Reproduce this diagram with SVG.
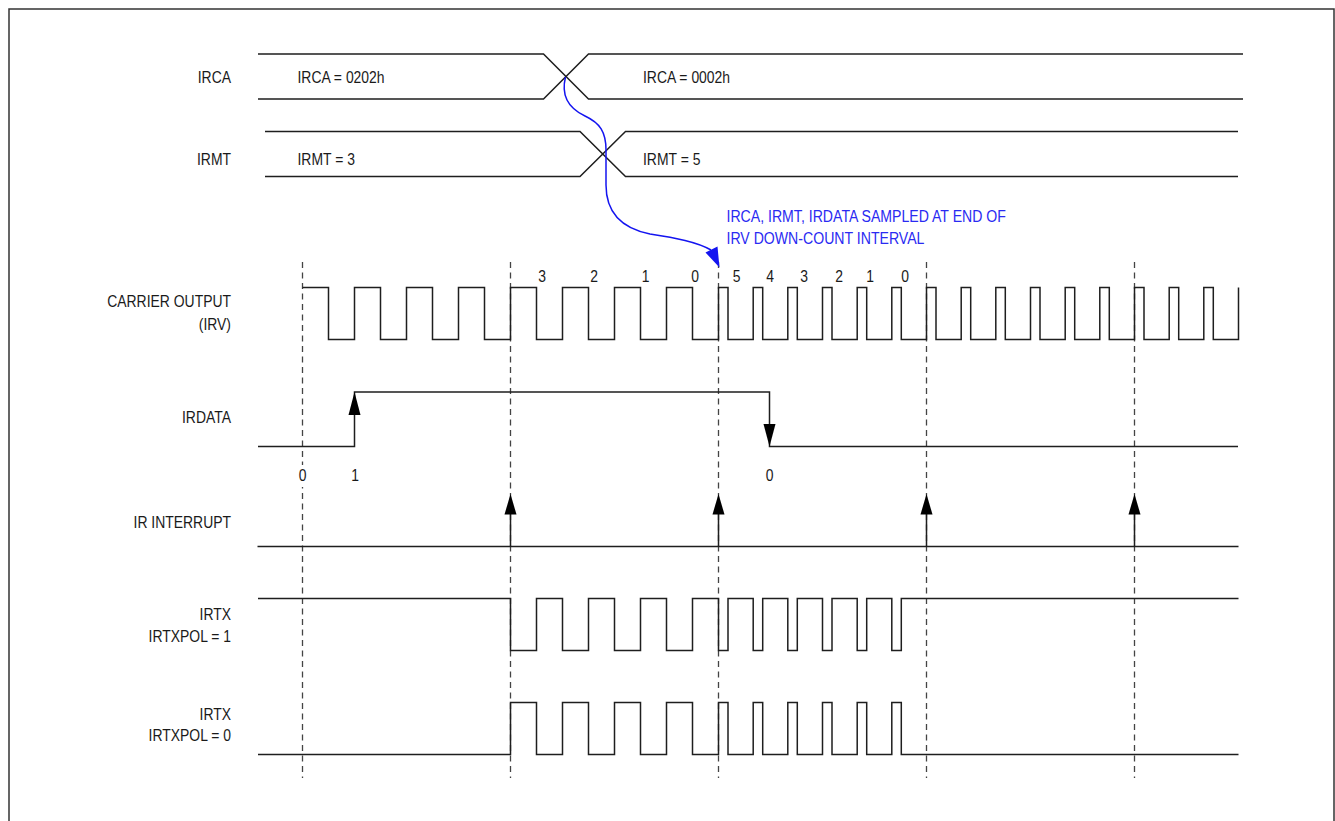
<svg xmlns="http://www.w3.org/2000/svg" width="1335" height="821" viewBox="0 0 1335 821">
<style>
text{font-family:"Liberation Sans",Arial,sans-serif;font-size:17px;fill:#1a1a1a}
.lbl{text-anchor:end}
.num{text-anchor:middle}
.blue{fill:#2a2af2}
.w{fill:none;stroke:#1e1e1e;stroke-width:1.5}
.dash{fill:none;stroke:#444;stroke-width:1.3;stroke-dasharray:6 4.5}
.ah{fill:#000;stroke:none}
</style>
<rect x="9" y="9" width="1325" height="830" fill="#fff" stroke="#333" stroke-width="1.5"/>

<g id="dashed-lines">
<line class="dash" x1="302.5" y1="262" x2="302.5" y2="778"/>
<line class="dash" x1="510.5" y1="262" x2="510.5" y2="778"/>
<line class="dash" x1="718.5" y1="262" x2="718.5" y2="778"/>
<line class="dash" x1="926.5" y1="262" x2="926.5" y2="778"/>
<line class="dash" x1="1134.5" y1="262" x2="1134.5" y2="778"/>
</g>

<g id="irca">
<text class="lbl" transform="matrix(0.82 0 0 1 231 83)">IRCA</text>
<path class="w" d="M258,54 H543.5 L588.5,99 H1243 M258,99 H543.5 L588.5,54 H1243"/>
<text transform="matrix(0.82 0 0 1 297.5 83)">IRCA = 0202h</text>
<text transform="matrix(0.82 0 0 1 643 83)">IRCA = 0002h</text>
</g>

<g id="irmt">
<text class="lbl" transform="matrix(0.82 0 0 1 231 165)">IRMT</text>
<path class="w" d="M265,131.5 H580 L625.5,176.5 H1238 M265,176.5 H580 L625.5,131.5 H1238"/>
<text transform="matrix(0.82 0 0 1 297.5 165)">IRMT = 3</text>
<text transform="matrix(0.82 0 0 1 643 165)">IRMT = 5</text>
</g>

<g id="carrier">
<text class="lbl" transform="matrix(0.82 0 0 1 231 306.5)">CARRIER OUTPUT</text>
<text class="lbl" transform="matrix(0.82 0 0 1 231 329.5)">(IRV)</text>
<path class="w" d="M302.5,287.5 H328.5 V339.5 H354.5 V287.5 H380.5 V339.5 H406.5 V287.5 H432.5 V339.5 H458.5 V287.5 H484.5 V339.5 H510.5 V287.5 H536.5 V339.5 H562.5 V287.5 H588.5 V339.5 H614.5 V287.5 H640.5 V339.5 H666.5 V287.5 H692.5 V339.5 H718.5 V287.5 H728 V339.5 H753.2 V287.5 H762.7 V339.5 H787.8 V287.5 H797.3 V339.5 H822.5 V287.5 H832 V339.5 H857.2 V287.5 H866.7 V339.5 H891.8 V287.5 H901.3 V339.5 H926.5 V287.5 H936 V339.5 H961.2 V287.5 H970.7 V339.5 H995.8 V287.5 H1005.3 V339.5 H1030.5 V287.5 H1040 V339.5 H1065.2 V287.5 H1074.7 V339.5 H1099.8 V287.5 H1109.3 V339.5 H1134.5 V287.5 H1144 V339.5 H1169.2 V287.5 H1178.7 V339.5 H1203.8 V287.5 H1213.3 V339.5 H1238.5 V287.5"/>
<text class="num" transform="matrix(0.82 0 0 1 542 281.5)">3</text>
<text class="num" transform="matrix(0.82 0 0 1 594 281.5)">2</text>
<text class="num" transform="matrix(0.82 0 0 1 645.5 281.5)">1</text>
<text class="num" transform="matrix(0.82 0 0 1 695 281.5)">0</text>
<text class="num" transform="matrix(0.82 0 0 1 736.5 281.5)">5</text>
<text class="num" transform="matrix(0.82 0 0 1 770 281.5)">4</text>
<text class="num" transform="matrix(0.82 0 0 1 804 281.5)">3</text>
<text class="num" transform="matrix(0.82 0 0 1 839 281.5)">2</text>
<text class="num" transform="matrix(0.82 0 0 1 870 281.5)">1</text>
<text class="num" transform="matrix(0.82 0 0 1 905 281.5)">0</text>
</g>

<g id="irdata">
<text class="lbl" transform="matrix(0.82 0 0 1 231 423)">IRDATA</text>
<path class="w" d="M258,446.5 H354.5 V392 H769.5 V446.5 H1238"/>
<polygon class="ah" points="354.5,392 348.5,415 360.5,415"/>
<polygon class="ah" points="769.5,446.5 763.5,424 775.5,424"/>
<rect x="296.5" y="465" width="12" height="22" fill="#fff"/>
<text class="num" transform="matrix(0.82 0 0 1 302.5 481)">0</text>
<text class="num" transform="matrix(0.82 0 0 1 355 481)">1</text>
<text class="num" transform="matrix(0.82 0 0 1 769.5 481)">0</text>
</g>

<g id="ir-interrupt">
<text class="lbl" transform="matrix(0.82 0 0 1 231 527.5)">IR INTERRUPT</text>
<path class="w" d="M257.5,546.5 H1238.5 M510.5,512 V546.5 M718.5,512 V546.5 M926.5,512 V546.5 M1134.5,512 V546.5"/>
<polygon class="ah" points="510.5,494 504.5,514.5 516.5,514.5"/>
<polygon class="ah" points="718.5,494 712.5,514.5 724.5,514.5"/>
<polygon class="ah" points="926.5,494 920.5,514.5 932.5,514.5"/>
<polygon class="ah" points="1134.5,494 1128.5,514.5 1140.5,514.5"/>
</g>

<g id="irtx-pol1">
<text class="lbl" transform="matrix(0.82 0 0 1 231 620)">IRTX</text>
<text class="lbl" transform="matrix(0.82 0 0 1 231 641.5)">IRTXPOL = 1</text>
<path class="w" d="M258,598.5 H510.5 V650.5 H536.5 V598.5 H562.5 V650.5 H588.5 V598.5 H614.5 V650.5 H640.5 V598.5 H666.5 V650.5 H692.5 V598.5 H718.5 V650.5 H728 V598.5 H753.2 V650.5 H762.7 V598.5 H787.8 V650.5 H797.3 V598.5 H822.5 V650.5 H832 V598.5 H857.2 V650.5 H866.7 V598.5 H891.8 V650.5 H901.3 V598.5 H1238.5"/>
</g>

<g id="irtx-pol0">
<text class="lbl" transform="matrix(0.82 0 0 1 231 720)">IRTX</text>
<text class="lbl" transform="matrix(0.82 0 0 1 231 741)">IRTXPOL = 0</text>
<path class="w" d="M258,754.5 H510.5 V702.5 H536.5 V754.5 H562.5 V702.5 H588.5 V754.5 H614.5 V702.5 H640.5 V754.5 H666.5 V702.5 H692.5 V754.5 H718.5 V702.5 H728 V754.5 H753.2 V702.5 H762.7 V754.5 H787.8 V702.5 H797.3 V754.5 H822.5 V702.5 H832 V754.5 H857.2 V702.5 H866.7 V754.5 H891.8 V702.5 H901.3 V754.5 H1238.5"/>
</g>

<g id="connectors">
<path d="M565.5,77 C561,95 568,108 585,116 C600,123 606,132 606,150 L606,185 C606,212 620,228 650,234 C676,238 697,242 711,250" fill="none" stroke="#1414f0" stroke-width="1.5"/>
<polygon points="705.5,252.5 717.5,246.5 719.5,267.5" fill="#1414f0"/>
<text class="blue" transform="matrix(0.83 0 0 1 726.5 221.5)">IRCA, IRMT, IRDATA SAMPLED AT END OF</text>
<text class="blue" transform="matrix(0.83 0 0 1 726.5 244)">IRV DOWN-COUNT INTERVAL</text>
</g>
</svg>
